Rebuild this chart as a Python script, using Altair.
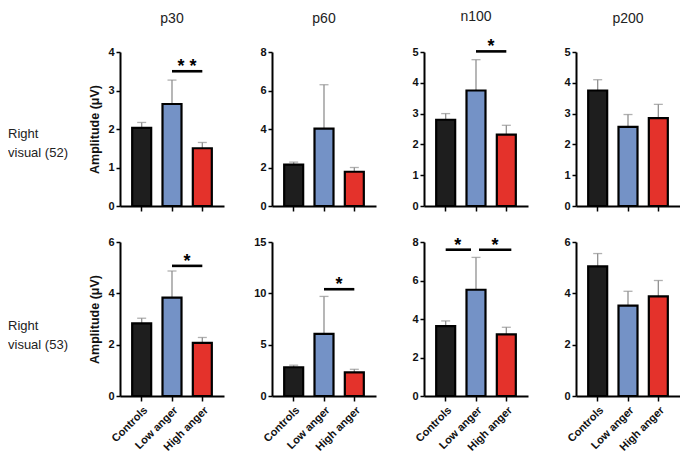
import altair as alt
import pandas as pd

# ---------------- data ----------------
groups = ["Controls", "Low anger", "High anger"]
components = ["p30", "p60", "n100", "p200"]
row_keys = ["52", "53"]
row_labels = {"52": ["Right", "visual (52)"], "53": ["Right", "visual (53)"]}

means_52 = {
    "p30": [2.03, 2.65, 1.50],
    "p60": [2.15, 4.02, 1.78],
    "n100": [2.80, 3.75, 2.32],
    "p200": [3.75, 2.57, 2.85],
}
upper_52 = {
    "p30": [2.17, 3.27, 1.65],
    "p60": [2.28, 6.30, 2.00],
    "n100": [3.00, 4.75, 2.62],
    "p200": [4.10, 2.97, 3.30],
}
means_53 = {
    "p30": [2.83, 3.83, 2.07],
    "p60": [2.80, 6.05, 2.30],
    "n100": [3.63, 5.52, 3.20],
    "p200": [5.05, 3.52, 3.88],
}
upper_53 = {
    "p30": [3.03, 4.87, 2.28],
    "p60": [3.00, 9.70, 2.60],
    "n100": [3.90, 7.20, 3.57],
    "p200": [5.55, 4.08, 4.50],
}
y_max = {"52": [4, 8, 5, 5], "53": [6, 15, 8, 6]}
y_step = {"52": [1, 2, 1, 1], "53": [2, 5, 2, 2]}

# significance bars
sig_row = ["52", "52", "53", "53", "53", "53"]
sig_comp = ["p30", "n100", "p30", "p60", "n100", "n100"]
sig_from = ["Low anger", "Low anger", "Low anger", "Low anger", "Controls", "Low anger"]
sig_to = ["High anger", "High anger", "High anger", "High anger", "Low anger", "High anger"]
sig_level = [3.50, 5.02, 5.07, 10.4, 7.6, 7.6]
sig_text = ["* *", "*", "*", "*", "*", "*"]

# ---------------- styles ----------------
FONT = "Liberation Sans"
colors = ["#1e1e1e", "#7492c6", "#e4322b"]
W, H = 104, 154
COLSP = 152 - W
TITLE_OFFSET = {"p30": 20, "p60": 20, "n100": 14, "p200": 20}
# pixel tweaks for the significance lines (x start offset, x end offset, star dx)
sig_style = [
    (0, 0, 15), (0, 0, 15), (0, 0, 15), (0, 0, 15),
    (0, -5, 12), (3, 5, 19),
]

means = {"52": means_52, "53": means_53}
uppers = {"52": upper_52, "53": upper_53}


def panel(rk, ci, comp):
    df = pd.DataFrame({"group": groups, "mean": means[rk][comp], "upper": uppers[rk][comp]})
    ymax = y_max[rk][ci]
    ticks = list(range(0, ymax + 1, y_step[rk][ci]))
    xscale = alt.Scale(domain=groups, paddingInner=0.35, paddingOuter=0.39)
    xaxis = alt.Axis(
        title=None, labels=(rk == "53"), labelAngle=-45, tickSize=5,
        labelPadding=3, domainWidth=2,
    )
    yscale = alt.Scale(domain=[0, ymax], nice=False, zero=True)
    yaxis_kw = dict(values=ticks, tickSize=4, labelPadding=2, domainWidth=2,
                    grid=False)
    if ci == 0:
        yaxis = alt.Axis(title="Amplitude (μV)", titleFontWeight="bold",
                         titleFontSize=12.5, titlePadding=5, minExtent=14,
                         maxExtent=14, titleColor="#111", **yaxis_kw)
    else:
        yaxis = alt.Axis(title=None, **yaxis_kw)

    def X(f):
        return alt.X(f, type="nominal", sort=groups, scale=xscale, axis=xaxis)

    def Y(f):
        return alt.Y(f, type="quantitative", scale=yscale, axis=yaxis)

    base = alt.Chart(df)
    err = base.mark_rule(color="#909090", strokeWidth=1.3).encode(
        x=X("group"), y=Y("mean"), y2="upper:Q")
    cap = base.mark_tick(color="#909090", thickness=1.3, size=9).encode(
        x=X("group"), y=Y("upper"))
    bars = base.mark_bar(stroke="black", strokeWidth=2.2, size=19).encode(
        x=X("group"), y=Y("mean"),
        color=alt.Color("group:N", scale=alt.Scale(domain=groups, range=colors),
                        legend=None))
    layers = [err, cap, bars]

    for i in range(len(sig_row)):
        if sig_row[i] == rk and sig_comp[i] == comp:
            sdf = pd.DataFrame({"from": [sig_from[i]], "to": [sig_to[i]],
                                "level": [sig_level[i]], "txt": [sig_text[i]]})
            xo, x2o, sdx = sig_style[i]
            sb = alt.Chart(sdf)
            line = sb.mark_rule(color="black", strokeWidth=2.6, xOffset=xo,
                                x2Offset=x2o).encode(
                x=X("from"), x2="to:N", y=Y("level"))
            star = sb.mark_text(fontSize=18, fontWeight="bold", font=FONT,
                                baseline="alphabetic", dx=sdx, dy=1,
                                color="black").encode(
                x=X("from"), y=Y("level"), text="txt:N")
            layers += [line, star]

    ch = alt.layer(*layers).properties(width=W, height=H)
    if rk == "52":
        ch = ch.properties(title=alt.TitleParams(comp, offset=TITLE_OFFSET[comp]))
    return ch


def label_chart(rk):
    ldf = pd.DataFrame({"lab": [row_labels[rk]]})
    dy = 5 if rk == "52" else 7
    return alt.Chart(ldf).mark_text(
        align="left", baseline="middle", fontSize=13, font=FONT,
        lineHeight=19, color="#222").encode(
        x=alt.value(0), y=alt.value(H / 2 + dy), text="lab:N"
    ).properties(width=112 - COLSP, height=H)


cells = []
for rk in row_keys:
    cells.append(label_chart(rk))
    for ci, comp in enumerate(components):
        cells.append(panel(rk, ci, comp))

chart = alt.concat(
    *cells, columns=5, spacing={"row": 36, "column": COLSP}, bounds="flush"
).configure(
    padding={"top": 2, "left": 0, "right": 0, "bottom": 0}
).configure_view(
    stroke=None
).configure_axis(
    domainColor="black", tickColor="black", tickWidth=1.5,
    labelFont=FONT, labelFontWeight="bold", labelFontSize=11,
    labelColor="#111", titleFont=FONT,
).configure_title(
    font=FONT, fontSize=14, fontWeight="normal", color="#222"
)

chart.save("out.html", embed_options={"renderer": "svg", "actions": False})
